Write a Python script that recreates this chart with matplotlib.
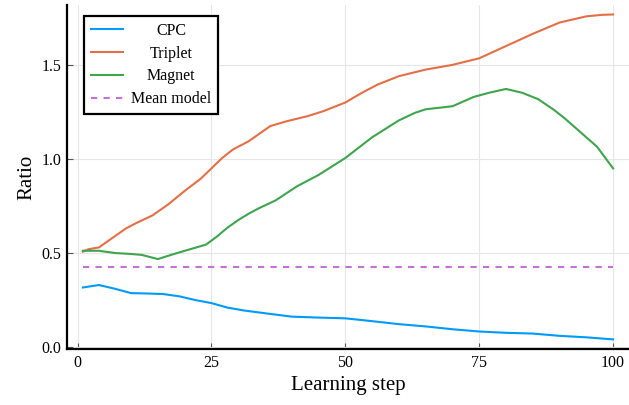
import numpy as np
import matplotlib
matplotlib.use("Agg")
import matplotlib.pyplot as plt

# values
cpc_x = [1, 4, 7, 10, 13, 16, 19, 22, 25, 28, 31, 35, 40, 45, 50, 55, 60, 65, 70, 75, 80, 85, 90, 95, 100]
cpc_y = [0.317, 0.330, 0.310, 0.287, 0.285, 0.282, 0.270, 0.250, 0.234, 0.210, 0.195, 0.180, 0.162, 0.157,
         0.153, 0.138, 0.122, 0.110, 0.095, 0.083, 0.076, 0.072, 0.060, 0.052, 0.041]

triplet_x = [1, 2, 4, 6, 9, 11, 14, 17, 20, 23, 25, 27, 29, 32, 34, 36, 39, 43, 46, 50, 53, 56, 60, 65,
             70, 75, 80, 85, 90, 95, 98, 100]
triplet_y = [0.507, 0.520, 0.530, 0.570, 0.630, 0.660, 0.700, 0.760, 0.830, 0.895, 0.950, 1.005, 1.050,
             1.095, 1.135, 1.175, 1.200, 1.228, 1.255, 1.300, 1.350, 1.395, 1.440, 1.475, 1.500, 1.535,
             1.600, 1.665, 1.725, 1.758, 1.766, 1.768]

magnet_x = [1, 4, 7, 10, 12, 15, 18, 21, 24, 26, 28, 30, 32, 34, 37, 41, 45, 50, 55, 60, 63, 65, 70, 74,
            77, 80, 83, 86, 89, 91, 94, 97, 100]
magnet_y = [0.512, 0.512, 0.500, 0.495, 0.490, 0.468, 0.495, 0.520, 0.545, 0.587, 0.635, 0.675, 0.710,
            0.740, 0.780, 0.855, 0.915, 1.005, 1.115, 1.205, 1.245, 1.264, 1.280, 1.330, 1.353, 1.372,
            1.352, 1.318, 1.260, 1.215, 1.140, 1.065, 0.950]

mean_x = [1, 100]
mean_y = [0.427, 0.427]

plt.rcParams['font.family'] = ['Liberation Serif', 'DejaVu Serif']

fig = plt.figure(figsize=(6.29, 4.05), dpi=100)
ax = fig.add_axes([0.1065, 0.138, 0.8935, 0.85])

ax.plot(cpc_x, cpc_y, color='#009AFA', lw=1.5, label='CPC')
ax.plot(triplet_x, triplet_y, color='#E36F47', lw=1.5, label='Triplet')
ax.plot(magnet_x, magnet_y, color='#3EA44E', lw=1.5, label='Magnet')
ax.plot(mean_x, mean_y, color='#C371D2', lw=1.5, ls=(0, (3, 3)), label='Mean model')

ax.set_xlim(-1.97, 102.97)
ax.set_ylim(-0.0106, 1.819)
ax.set_xticks([0, 25, 50, 75, 100])
ax.set_yticks([0.0, 0.5, 1.0, 1.5])
ax.set_yticklabels(['0.0', '0.5', '1.0', '1.5'])
ax.grid(True, color='#e6e6e6', lw=0.8)
ax.set_axisbelow(True)

for s in ['top', 'right']:
    ax.spines[s].set_visible(False)
for s in ['left', 'bottom']:
    ax.spines[s].set_linewidth(1.6)
ax.tick_params(direction='in', length=4, width=0.8, color='#555555', labelsize=11.5, pad=4)

ax.set_xlabel('Learning step', fontsize=15)
ax.set_ylabel('Ratio', fontsize=15)

leg = ax.legend(loc='upper left', bbox_to_anchor=(0.030, 0.968), borderaxespad=0,
                fontsize=11.5, fancybox=False, framealpha=1, edgecolor='black',
                handlelength=2.0, handletextpad=0.5, labelspacing=0.42, borderpad=0.45)
leg.get_frame().set_linewidth(1.6)

# center the labels like the reference legend
fig.canvas.draw()
r = fig.canvas.get_renderer()
texts = leg.get_texts()
widths = [t.get_window_extent(r).width for t in texts]
for t, w in zip(texts, widths):
    t.set_x((max(widths) - w) / 2)

fig.savefig('out.png', dpi=100)
